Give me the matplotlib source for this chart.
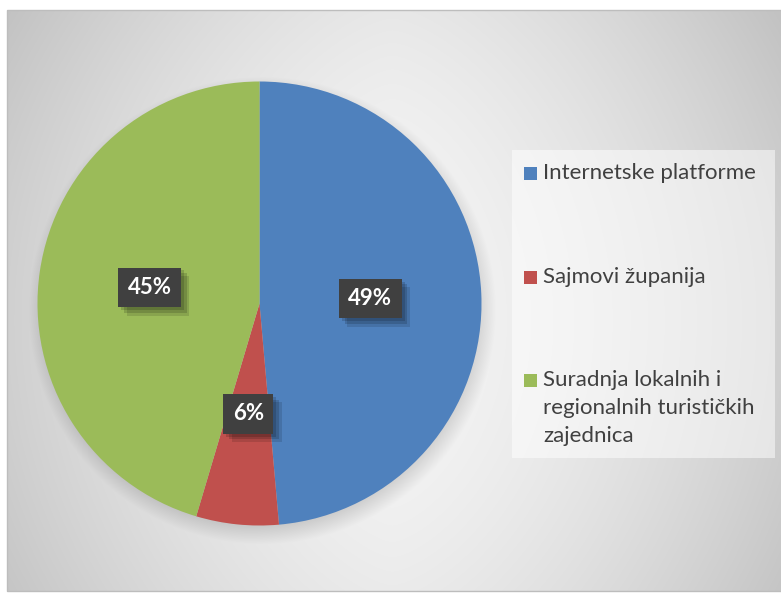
import numpy as np
import matplotlib
matplotlib.use("Agg")
import matplotlib.pyplot as plt
import matplotlib.patheffects as pe
from matplotlib.patches import Rectangle

# data
categories = ["Internetske platforme", "Sajmovi županija",
              "Suradnja lokalnih i\nregionalnih turističkih\nzajednica"]
shares = [48.6, 6.0, 45.4]
colors = ["#4F81BD", "#C0504D", "#9BBB59"]

W, H = 781, 593
plt.rcParams['font.family'] = ['Lato', 'DejaVu Sans']

fig = plt.figure(figsize=(W / 100, H / 100), dpi=100)

# background: grey gradient inside the chart area, lighter in the middle
yy, xx = np.mgrid[0:H, 0:W].astype(float)
dx = np.abs(xx - 392) / 385
dy = np.abs(yy - 320) / 290
g = 245 - 37 * np.clip(dx, 0, 1.1) ** 1.5 - 12 * np.clip(dy, 0, 1.1) ** 2
# soft shadow under the pie
d = np.hypot(xx - 262, yy - 310)
g -= 40 * np.clip((234 - d) / 24, 0, 1)
g = g / 255.0
inside = (xx >= 7) & (yy >= 10) & (yy <= 591)
img = np.where(inside, g, 1.0)
img = np.dstack([img, img, img])

ax_bg = fig.add_axes([0, 0, 1, 1])
ax_bg.imshow(img, extent=(0, W, H, 0), interpolation="bilinear")
ax_bg.set_xlim(0, W)
ax_bg.set_ylim(H, 0)
ax_bg.axis("off")
ax_bg.add_patch(Rectangle((7, 10), W - 6, 581, fill=False, ec="#bdbdbd", lw=1))

# legend box
ax_bg.add_patch(Rectangle((512, 150), 263, 308, fc="white", ec="none", alpha=0.5))

# pie
cx, cy, r = 259.5, 303.5, 222
ax = fig.add_axes([(cx - r) / W, (H - cy - r) / H, 2 * r / W, 2 * r / H])
wedges, texts, autotexts = ax.pie(
    shares, colors=colors, startangle=90, counterclock=False,
    autopct="%1.0f%%", pctdistance=0.5, radius=1,
    wedgeprops=dict(edgecolor="none"),
    textprops=dict(color="white", fontsize=16, fontweight="bold"))
ax.set_xlim(-1, 1)
ax.set_ylim(-1, 1)
ax.set_aspect("auto")

for t in autotexts:
    t.set_bbox(dict(boxstyle="square,pad=0.42", fc="#404040", ec="none", lw=0))
    t.get_bbox_patch().set_path_effects(
        [pe.SimplePatchShadow(offset=(6, -6), shadow_rgbFace="black", alpha=0.12),
         pe.SimplePatchShadow(offset=(4, -4), shadow_rgbFace="black", alpha=0.15),
         pe.SimplePatchShadow(offset=(2, -2), shadow_rgbFace="black", alpha=0.15),
         pe.Normal()])

# legend entries
rows = [173, 277, 380]
for lab, col, y in zip(categories, colors, rows):
    ax_bg.add_patch(Rectangle((524, y - 6.5), 13, 13, fc=col, ec="none"))
    ax_bg.text(543, y - 10, lab, fontsize=16, color="#404040", va="top",
               ha="left", linespacing=1.5)

fig.savefig("out.png", dpi=100)
